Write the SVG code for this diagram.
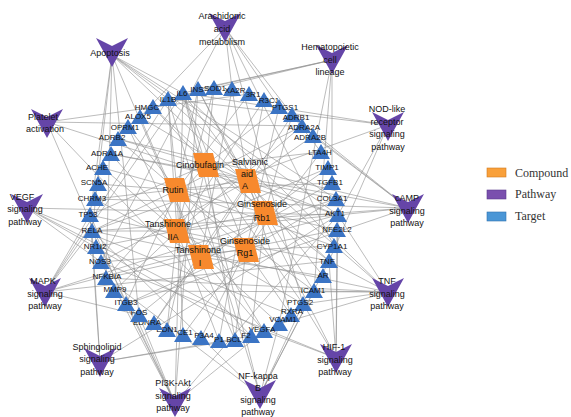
<svg xmlns="http://www.w3.org/2000/svg" xmlns:xlink="http://www.w3.org/1999/xlink" width="571" height="417" viewBox="0 0 571 417">
<style>
.e line{stroke:#8e8e8e;stroke-width:0.6;fill:none}
.tri{fill:#3b74c4}
.vee{fill:#6545a8}
.par{fill:#f7892d}
text{font-family:"Liberation Sans",Arial,sans-serif;fill:#111;text-anchor:middle}
.tl{font-size:8px}
.pl{font-size:9px}
.lg{font-family:"Liberation Serif","Times New Roman",serif;font-size:12px;fill:#333;text-anchor:start}
</style>
<defs>
<polygon id="tri" points="0,-8 9,7 -9,7"/>
<polygon id="vee" points="-16,-14 0,-6 16,-14 0,15"/>
<polygon id="para" points="-13,-12 7,-12 13,12 -7,12"/>
</defs>
<rect width="571" height="417" fill="#fff"/>
<g id="connectors" class="e">
<line x1="206" y1="165" x2="183" y2="93"/><line x1="206" y1="165" x2="214" y2="88"/><line x1="206" y1="165" x2="279" y2="107"/><line x1="206" y1="165" x2="321" y2="152"/><line x1="206" y1="165" x2="338" y2="215"/><line x1="206" y1="165" x2="329" y2="261"/><line x1="206" y1="165" x2="303" y2="304"/><line x1="206" y1="165" x2="235" y2="340"/><line x1="206" y1="165" x2="167" y2="330"/><line x1="206" y1="165" x2="106" y2="278"/><line x1="206" y1="165" x2="90" y2="215"/><line x1="206" y1="165" x2="118" y2="139"/><line x1="206" y1="165" x2="153" y2="107"/>
<line x1="177" y1="190" x2="198" y2="89"/><line x1="177" y1="190" x2="249" y2="94"/><line x1="177" y1="190" x2="302" y2="126"/><line x1="177" y1="190" x2="332" y2="183"/><line x1="177" y1="190" x2="334" y2="246"/><line x1="177" y1="190" x2="314" y2="291"/><line x1="177" y1="190" x2="264" y2="331"/><line x1="177" y1="190" x2="183" y2="335"/><line x1="177" y1="190" x2="126" y2="304"/><line x1="177" y1="190" x2="92" y2="231"/><line x1="177" y1="190" x2="98" y2="184"/><line x1="177" y1="190" x2="128" y2="127"/><line x1="177" y1="190" x2="168" y2="99"/>
<line x1="248" y1="181" x2="183" y2="93"/><line x1="248" y1="181" x2="232" y2="89"/><line x1="248" y1="181" x2="264" y2="100"/><line x1="248" y1="181" x2="313" y2="136"/><line x1="248" y1="181" x2="336" y2="199"/><line x1="248" y1="181" x2="323" y2="276"/><line x1="248" y1="181" x2="291" y2="315"/><line x1="248" y1="181" x2="219" y2="341"/><line x1="248" y1="181" x2="154" y2="323"/><line x1="248" y1="181" x2="101" y2="262"/><line x1="248" y1="181" x2="95" y2="199"/><line x1="248" y1="181" x2="111" y2="154"/><line x1="248" y1="181" x2="140" y2="117"/>
<line x1="265" y1="213" x2="198" y2="89"/><line x1="265" y1="213" x2="292" y2="115"/><line x1="265" y1="213" x2="328" y2="168"/><line x1="265" y1="213" x2="337" y2="230"/><line x1="265" y1="213" x2="314" y2="291"/><line x1="265" y1="213" x2="251" y2="336"/><line x1="265" y1="213" x2="201" y2="338"/><line x1="265" y1="213" x2="139" y2="315"/><line x1="265" y1="213" x2="96" y2="247"/><line x1="265" y1="213" x2="103" y2="168"/><line x1="265" y1="213" x2="153" y2="107"/>
<line x1="177" y1="231" x2="214" y2="88"/><line x1="177" y1="231" x2="264" y2="100"/><line x1="177" y1="231" x2="302" y2="126"/><line x1="177" y1="231" x2="328" y2="168"/><line x1="177" y1="231" x2="338" y2="215"/><line x1="177" y1="231" x2="329" y2="261"/><line x1="177" y1="231" x2="303" y2="304"/><line x1="177" y1="231" x2="279" y2="324"/><line x1="177" y1="231" x2="219" y2="341"/><line x1="177" y1="231" x2="167" y2="330"/><line x1="177" y1="231" x2="114" y2="291"/><line x1="177" y1="231" x2="92" y2="231"/><line x1="177" y1="231" x2="103" y2="168"/><line x1="177" y1="231" x2="128" y2="127"/><line x1="177" y1="231" x2="168" y2="99"/>
<line x1="246" y1="250" x2="183" y2="93"/><line x1="246" y1="250" x2="279" y2="107"/><line x1="246" y1="250" x2="321" y2="152"/><line x1="246" y1="250" x2="336" y2="199"/><line x1="246" y1="250" x2="334" y2="246"/><line x1="246" y1="250" x2="291" y2="315"/><line x1="246" y1="250" x2="235" y2="340"/><line x1="246" y1="250" x2="183" y2="335"/><line x1="246" y1="250" x2="126" y2="304"/><line x1="246" y1="250" x2="101" y2="262"/><line x1="246" y1="250" x2="90" y2="215"/><line x1="246" y1="250" x2="118" y2="139"/>
<line x1="201" y1="257" x2="232" y2="89"/><line x1="201" y1="257" x2="292" y2="115"/><line x1="201" y1="257" x2="332" y2="183"/><line x1="201" y1="257" x2="337" y2="230"/><line x1="201" y1="257" x2="323" y2="276"/><line x1="201" y1="257" x2="264" y2="331"/><line x1="201" y1="257" x2="154" y2="323"/><line x1="201" y1="257" x2="106" y2="278"/><line x1="201" y1="257" x2="95" y2="199"/><line x1="201" y1="257" x2="111" y2="154"/><line x1="201" y1="257" x2="140" y2="117"/>
<line x1="112" y1="55" x2="338" y2="215"/><line x1="112" y1="55" x2="329" y2="261"/><line x1="112" y1="55" x2="106" y2="278"/><line x1="112" y1="55" x2="92" y2="231"/><line x1="112" y1="55" x2="90" y2="215"/><line x1="112" y1="55" x2="235" y2="340"/><line x1="112" y1="55" x2="139" y2="315"/><line x1="112" y1="55" x2="183" y2="93"/><line x1="112" y1="55" x2="168" y2="99"/><line x1="112" y1="55" x2="336" y2="199"/>
<line x1="225" y1="28" x2="279" y2="107"/><line x1="225" y1="28" x2="303" y2="304"/><line x1="225" y1="28" x2="140" y2="117"/><line x1="225" y1="28" x2="232" y2="89"/><line x1="225" y1="28" x2="321" y2="152"/><line x1="225" y1="28" x2="101" y2="262"/><line x1="225" y1="28" x2="334" y2="246"/>
<line x1="332" y1="60" x2="183" y2="93"/><line x1="332" y1="60" x2="168" y2="99"/><line x1="332" y1="60" x2="314" y2="291"/><line x1="332" y1="60" x2="279" y2="324"/><line x1="332" y1="60" x2="332" y2="183"/><line x1="332" y1="60" x2="198" y2="89"/>
<line x1="388" y1="125" x2="183" y2="93"/><line x1="388" y1="125" x2="168" y2="99"/><line x1="388" y1="125" x2="92" y2="231"/><line x1="388" y1="125" x2="338" y2="215"/><line x1="388" y1="125" x2="329" y2="261"/>
<line x1="408" y1="208" x2="292" y2="115"/><line x1="408" y1="208" x2="302" y2="126"/><line x1="408" y1="208" x2="313" y2="136"/><line x1="408" y1="208" x2="111" y2="154"/><line x1="408" y1="208" x2="118" y2="139"/><line x1="408" y1="208" x2="338" y2="215"/><line x1="408" y1="208" x2="92" y2="231"/><line x1="408" y1="208" x2="126" y2="304"/><line x1="408" y1="208" x2="95" y2="199"/>
<line x1="388" y1="292" x2="183" y2="93"/><line x1="388" y1="292" x2="168" y2="99"/><line x1="388" y1="292" x2="92" y2="231"/><line x1="388" y1="292" x2="106" y2="278"/><line x1="388" y1="292" x2="329" y2="261"/><line x1="388" y1="292" x2="338" y2="215"/><line x1="388" y1="292" x2="303" y2="304"/><line x1="388" y1="292" x2="114" y2="291"/><line x1="388" y1="292" x2="279" y2="324"/><line x1="388" y1="292" x2="314" y2="291"/>
<line x1="336" y1="358" x2="198" y2="89"/><line x1="336" y1="358" x2="338" y2="215"/><line x1="336" y1="358" x2="264" y2="331"/><line x1="336" y1="358" x2="303" y2="304"/><line x1="336" y1="358" x2="101" y2="262"/><line x1="336" y1="358" x2="329" y2="261"/><line x1="336" y1="358" x2="337" y2="230"/>
<line x1="260" y1="395" x2="183" y2="93"/><line x1="260" y1="395" x2="168" y2="99"/><line x1="260" y1="395" x2="329" y2="261"/><line x1="260" y1="395" x2="92" y2="231"/><line x1="260" y1="395" x2="106" y2="278"/><line x1="260" y1="395" x2="314" y2="291"/><line x1="260" y1="395" x2="279" y2="324"/><line x1="260" y1="395" x2="303" y2="304"/>
<line x1="175" y1="403" x2="198" y2="89"/><line x1="175" y1="403" x2="183" y2="93"/><line x1="175" y1="403" x2="338" y2="215"/><line x1="175" y1="403" x2="264" y2="331"/><line x1="175" y1="403" x2="92" y2="231"/><line x1="175" y1="403" x2="90" y2="215"/><line x1="175" y1="403" x2="126" y2="304"/><line x1="175" y1="403" x2="139" y2="315"/><line x1="175" y1="403" x2="101" y2="262"/>
<line x1="100" y1="362" x2="338" y2="215"/><line x1="100" y1="362" x2="92" y2="231"/><line x1="100" y1="362" x2="90" y2="215"/><line x1="100" y1="362" x2="235" y2="340"/><line x1="100" y1="362" x2="251" y2="336"/>
<line x1="45" y1="292" x2="183" y2="93"/><line x1="45" y1="292" x2="168" y2="99"/><line x1="45" y1="292" x2="338" y2="215"/><line x1="45" y1="292" x2="329" y2="261"/><line x1="45" y1="292" x2="92" y2="231"/><line x1="45" y1="292" x2="139" y2="315"/><line x1="45" y1="292" x2="90" y2="215"/><line x1="45" y1="292" x2="336" y2="199"/>
<line x1="27" y1="208" x2="338" y2="215"/><line x1="27" y1="208" x2="264" y2="331"/><line x1="27" y1="208" x2="101" y2="262"/><line x1="27" y1="208" x2="291" y2="315"/><line x1="27" y1="208" x2="251" y2="336"/>
<line x1="47" y1="122" x2="338" y2="215"/><line x1="47" y1="122" x2="126" y2="304"/><line x1="47" y1="122" x2="251" y2="336"/><line x1="47" y1="122" x2="302" y2="126"/><line x1="47" y1="122" x2="249" y2="94"/>
</g>
<g id="targets">
<g id="t-IL6"><use href="#tri" class="tri" x="183" y="93"/><text class="tl" x="182" y="96">IL6</text></g>
<g id="t-INS"><use href="#tri" class="tri" x="198" y="89"/><text class="tl" x="197" y="92">INS</text></g>
<g id="t-SOD1"><use href="#tri" class="tri" x="214" y="88"/><text class="tl" x="215" y="91">SOD1</text></g>
<g id="t-XA2R"><use href="#tri" class="tri" x="232" y="89"/><text class="tl" x="235" y="93">XA2R</text></g>
<g id="t-3R1"><use href="#tri" class="tri" x="249" y="94"/><text class="tl" x="253" y="97">3R1</text></g>
<g id="t-R3C1"><use href="#tri" class="tri" x="264" y="100"/><text class="tl" x="269" y="103">R3C1</text></g>
<g id="t-PTGS1"><use href="#tri" class="tri" x="279" y="107"/><text class="tl" x="285" y="110">PTGS1</text></g>
<g id="t-ADRB1"><use href="#tri" class="tri" x="292" y="115"/><text class="tl" x="296" y="120">ADRB1</text></g>
<g id="t-ADRA2A"><use href="#tri" class="tri" x="302" y="126"/><text class="tl" x="304" y="130">ADRA2A</text></g>
<g id="t-ADRA2B"><use href="#tri" class="tri" x="313" y="136"/><text class="tl" x="310" y="140">ADRA2B</text></g>
<g id="t-LTA4H"><use href="#tri" class="tri" x="321" y="152"/><text class="tl" x="320" y="155">LTA4H</text></g>
<g id="t-TIMP1"><use href="#tri" class="tri" x="328" y="168"/><text class="tl" x="327" y="170">TIMP1</text></g>
<g id="t-TGFB1"><use href="#tri" class="tri" x="332" y="183"/><text class="tl" x="330" y="185">TGFB1</text></g>
<g id="t-COL3A1"><use href="#tri" class="tri" x="336" y="199"/><text class="tl" x="332" y="201">COL3A1</text></g>
<g id="t-AKT1"><use href="#tri" class="tri" x="338" y="215"/><text class="tl" x="335" y="216">AKT1</text></g>
<g id="t-NFE2L2"><use href="#tri" class="tri" x="337" y="230"/><text class="tl" x="337" y="232">NFE2L2</text></g>
<g id="t-CYP1A1"><use href="#tri" class="tri" x="334" y="246"/><text class="tl" x="332" y="249">CYP1A1</text></g>
<g id="t-TNF"><use href="#tri" class="tri" x="329" y="261"/><text class="tl" x="327" y="264">TNF</text></g>
<g id="t-AR"><use href="#tri" class="tri" x="323" y="276"/><text class="tl" x="323" y="278">AR</text></g>
<g id="t-ICAM1"><use href="#tri" class="tri" x="314" y="291"/><text class="tl" x="313" y="293">ICAM1</text></g>
<g id="t-PTGS2"><use href="#tri" class="tri" x="303" y="304"/><text class="tl" x="300" y="305">PTGS2</text></g>
<g id="t-RXRA"><use href="#tri" class="tri" x="291" y="315"/><text class="tl" x="292" y="314">RXRA</text></g>
<g id="t-VCAM1"><use href="#tri" class="tri" x="279" y="324"/><text class="tl" x="283" y="322">VCAM1</text></g>
<g id="t-VEGFA"><use href="#tri" class="tri" x="264" y="331"/><text class="tl" x="262" y="332">VEGFA</text></g>
<g id="t-F2"><use href="#tri" class="tri" x="251" y="336"/><text class="tl" x="246" y="338">F2</text></g>
<g id="t-BCL"><use href="#tri" class="tri" x="235" y="340"/><text class="tl" x="234" y="342">BCL</text></g>
<g id="t-P1"><use href="#tri" class="tri" x="219" y="341"/><text class="tl" x="219" y="342">P1</text></g>
<g id="t-P3A4"><use href="#tri" class="tri" x="201" y="338"/><text class="tl" x="204" y="338">P3A4</text></g>
<g id="t-CE1"><use href="#tri" class="tri" x="183" y="335"/><text class="tl" x="185" y="335">CE1</text></g>
<g id="t-EDN1"><use href="#tri" class="tri" x="167" y="330"/><text class="tl" x="167" y="332">EDN1</text></g>
<g id="t-EDNRA"><use href="#tri" class="tri" x="154" y="323"/><text class="tl" x="147" y="325">EDNRA</text></g>
<g id="t-FOS"><use href="#tri" class="tri" x="139" y="315"/><text class="tl" x="139" y="315">FOS</text></g>
<g id="t-ITGB3"><use href="#tri" class="tri" x="126" y="304"/><text class="tl" x="126" y="305">ITGB3</text></g>
<g id="t-MMP9"><use href="#tri" class="tri" x="114" y="291"/><text class="tl" x="115" y="292">MMP9</text></g>
<g id="t-NFKBIA"><use href="#tri" class="tri" x="106" y="278"/><text class="tl" x="107" y="279">NFKBIA</text></g>
<g id="t-NOS3"><use href="#tri" class="tri" x="101" y="262"/><text class="tl" x="100" y="264">NOS3</text></g>
<g id="t-NR1I2"><use href="#tri" class="tri" x="96" y="247"/><text class="tl" x="95" y="249">NR1I2</text></g>
<g id="t-RELA"><use href="#tri" class="tri" x="92" y="231"/><text class="tl" x="92" y="233">RELA</text></g>
<g id="t-TP53"><use href="#tri" class="tri" x="90" y="215"/><text class="tl" x="88" y="217">TP53</text></g>
<g id="t-CHRM3"><use href="#tri" class="tri" x="95" y="199"/><text class="tl" x="92" y="201">CHRM3</text></g>
<g id="t-SCN5A"><use href="#tri" class="tri" x="98" y="184"/><text class="tl" x="94" y="185">SCN5A</text></g>
<g id="t-ACHE"><use href="#tri" class="tri" x="103" y="168"/><text class="tl" x="97" y="170">ACHE</text></g>
<g id="t-ADRA1A"><use href="#tri" class="tri" x="111" y="154"/><text class="tl" x="107" y="156">ADRA1A</text></g>
<g id="t-ADRB2"><use href="#tri" class="tri" x="118" y="139"/><text class="tl" x="112" y="140">ADRB2</text></g>
<g id="t-OPRM1"><use href="#tri" class="tri" x="128" y="127"/><text class="tl" x="125" y="130">OPRM1</text></g>
<g id="t-ALOX5"><use href="#tri" class="tri" x="140" y="117"/><text class="tl" x="138" y="119">ALOX5</text></g>
<g id="t-HMGC"><use href="#tri" class="tri" x="153" y="107"/><text class="tl" x="147" y="110">HMGC</text></g>
<g id="t-IL1B"><use href="#tri" class="tri" x="168" y="99"/><text class="tl" x="168" y="102">IL1B</text></g>
</g>
<g id="compounds">
<g id="c-cinobufagin"><use href="#para" class="par" x="206" y="165"/><text class="pl" x="200" y="168">Cinobufagin</text></g>
<g id="c-rutin"><use href="#para" class="par" x="177" y="190"/><text class="pl" x="173" y="193">Rutin</text></g>
<g id="c-salvianic"><use href="#para" class="par" x="248" y="181"/><text class="pl" x="250" y="165">Salvianic</text><text class="pl" x="247" y="177">aid</text><text class="pl" x="245" y="189">A</text></g>
<g id="c-rb1"><use href="#para" class="par" x="265" y="213"/><text class="pl" x="262" y="207">Ginsenoside</text><text class="pl" x="262" y="221">Rb1</text></g>
<g id="c-tiia"><use href="#para" class="par" x="177" y="231"/><text class="pl" x="168" y="227">Tanshinone</text><text class="pl" x="173" y="240">IIA</text></g>
<g id="c-rg1"><use href="#para" class="par" x="246" y="250"/><text class="pl" x="245" y="244">Ginsenoside</text><text class="pl" x="245" y="256">Rg1</text></g>
<g id="c-ti"><use href="#para" class="par" x="201" y="257"/><text class="pl" x="198" y="253">Tanshinone</text><text class="pl" x="200" y="266">I</text></g>
</g>
<g id="pathways">
<g id="p-apoptosis"><use href="#vee" class="vee" x="112" y="52"/><text class="pl" x="110" y="56">Apoptosis</text></g>
<g id="p-arachidonic"><use href="#vee" class="vee" x="225" y="27"/><text class="pl" x="222" y="19">Arachidonic</text><text class="pl" x="222" y="32">acid</text><text class="pl" x="222" y="45">metabolism</text></g>
<g id="p-hematopoietic"><use href="#vee" class="vee" x="332" y="59"/><text class="pl" x="330" y="50">Hematopoietic</text><text class="pl" x="330" y="63">cell</text><text class="pl" x="330" y="75">lineage</text></g>
<g id="p-nod"><use href="#vee" class="vee" x="388" y="126"/><text class="pl" x="387" y="112">NOD-like</text><text class="pl" x="387" y="125">receptor</text><text class="pl" x="387" y="137">signaling</text><text class="pl" x="388" y="150">pathway</text></g>
<g id="p-camp"><use href="#vee" class="vee" x="408" y="208"/><text class="pl" x="407" y="201">cAMP</text><text class="pl" x="407" y="214">signaling</text><text class="pl" x="407" y="226">pathway</text></g>
<g id="p-tnf"><use href="#vee" class="vee" x="388" y="292"/><text class="pl" x="387" y="284">TNF</text><text class="pl" x="387" y="297">signaling</text><text class="pl" x="387" y="309">pathway</text></g>
<g id="p-hif1"><use href="#vee" class="vee" x="336" y="358"/><text class="pl" x="334" y="350">HIF-1</text><text class="pl" x="335" y="363">signaling</text><text class="pl" x="335" y="375">pathway</text></g>
<g id="p-nfkb"><use href="#vee" class="vee" x="260" y="394"/><text class="pl" x="258" y="379">NF-kappa</text><text class="pl" x="258" y="391">B</text><text class="pl" x="258" y="403">signaling</text><text class="pl" x="258" y="415">pathway</text></g>
<g id="p-pi3k"><use href="#vee" class="vee" x="175" y="402"/><text class="pl" x="173" y="386">PI3K-Akt</text><text class="pl" x="173" y="399">signaling</text><text class="pl" x="173" y="411">pathway</text></g>
<g id="p-sphingolipid"><use href="#vee" class="vee" x="100" y="362"/><text class="pl" x="97" y="350">Sphingolipid</text><text class="pl" x="97" y="362">signaling</text><text class="pl" x="97" y="375">pathway</text></g>
<g id="p-mapk"><use href="#vee" class="vee" x="45" y="292"/><text class="pl" x="43" y="284">MAPK</text><text class="pl" x="45" y="297">signaling</text><text class="pl" x="45" y="309">pathway</text></g>
<g id="p-vegf"><use href="#vee" class="vee" x="27" y="208"/><text class="pl" x="22" y="200">VEGF</text><text class="pl" x="25" y="212">signaling</text><text class="pl" x="25" y="225">pathway</text></g>
<g id="p-platelet"><use href="#vee" class="vee" x="47" y="123"/><text class="pl" x="43" y="120">Platelet</text><text class="pl" x="45" y="132">activation</text></g>
</g>
<g id="legend">
<rect x="487" y="168" width="19" height="9" fill="#f9a03a" stroke="#d07a20" stroke-width="0.6"/>
<text class="lg" x="515" y="177">Compound</text>
<rect x="487" y="190" width="19" height="9" fill="#7a4fae" stroke="#5b3a8c" stroke-width="0.6"/>
<text class="lg" x="515" y="198">Pathway</text>
<rect x="487" y="212" width="19" height="9" fill="#4a96d6" stroke="#2f72b0" stroke-width="0.6"/>
<text class="lg" x="515" y="220">Target</text>
</g>
</svg>
